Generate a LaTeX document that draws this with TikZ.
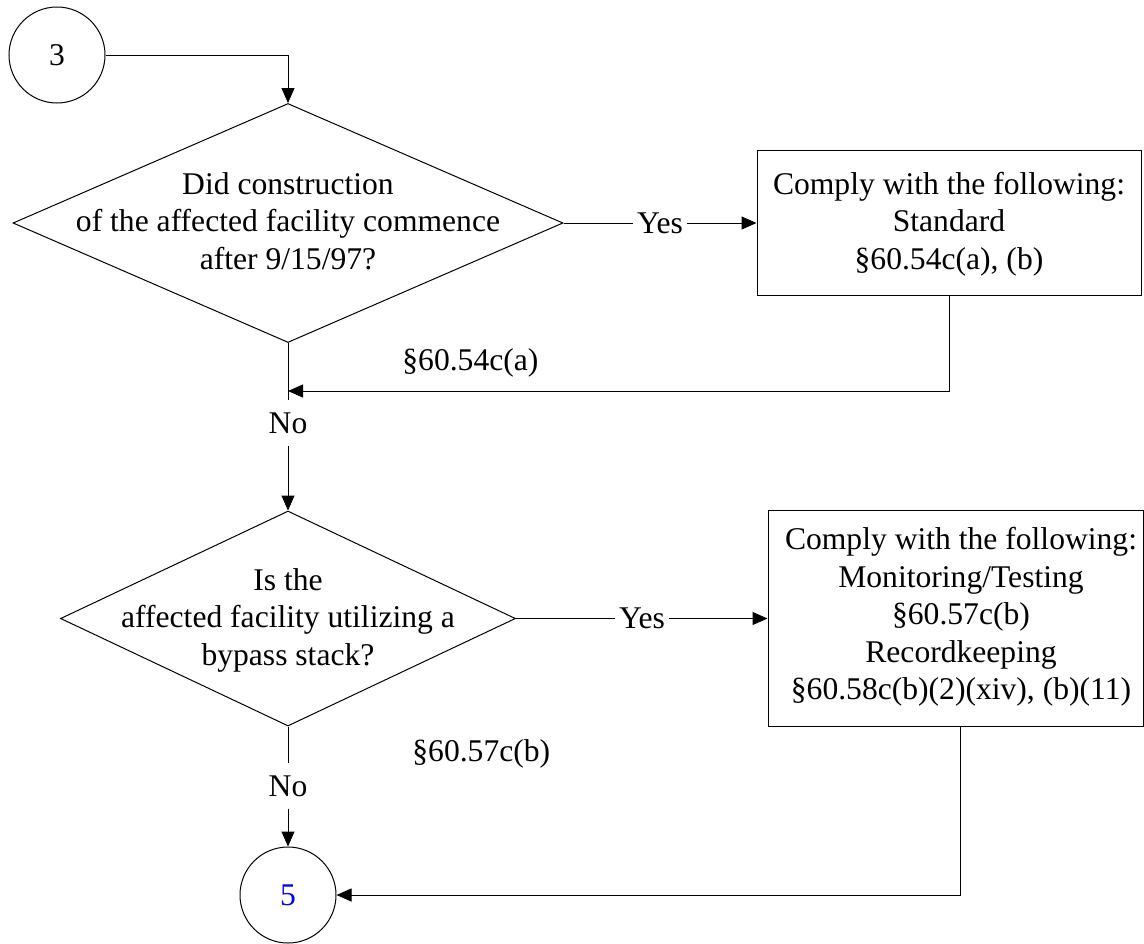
\documentclass[tikz,border=0pt]{standalone}
\usepackage{fontspec}
\setmainfont{Liberation Serif}
\usetikzlibrary{shapes.geometric,arrows.meta}
\begin{document}
\begin{tikzpicture}[x=0.5pt,y=-0.5pt,
  every node/.style={font=\fontsize{15.8}{18.75}\selectfont},
  ln/.style={line width=0.5pt, draw=black},
  arr/.style={ln, -{Triangle[length=7.5pt,width=6.5pt]}},
  conn/.style={circle, draw, line width=0.5pt, minimum size=48pt, inner sep=0pt},
  dec/.style={diamond, draw, line width=0.5pt, inner sep=0pt},
  boxx/.style={rectangle, draw, line width=0.5pt, inner sep=0pt},
  txt/.style={align=center, inner sep=0pt},
  lblh/.style={inner xsep=2pt, inner ysep=2pt},
  lblv/.style={inner xsep=2pt, inner ysep=6pt},
  sect/.style={anchor=base west, inner sep=0pt},
]
\useasboundingbox (0,0) rectangle (1144,943);

% nodes
\node[conn] (c3) at (57,55) {3};
\node[dec, minimum width=275pt, minimum height=119.5pt] (d1) at (288,223) {};
\node[txt] (d1t) at (288,221) {Did construction\\of the affected facility commence\\after 9/15/97?};
\node[boxx, minimum width=192pt, minimum height=72.5pt] (b1) at (949,223) {};
\node[txt] (b1t) at (949,224) {Comply with the following:\\Standard\\§60.54c(a), (b)};

\node[dec, minimum width=227.5pt, minimum height=107.5pt] (d2) at (288,618.5) {};
\node[txt] (d2t) at (288,620) {Is the\\affected facility utilizing a\\bypass stack?};
\node[boxx, minimum width=187.5pt, minimum height=108pt] (b2) at (955.5,618.5) {};
\node[txt] (b2t) at (961,617) {Comply with the following:\\Monitoring/Testing\\§60.57c(b)\\Recordkeeping\\§60.58c(b)(2)(xiv), (b)(11)};

\node[conn, text=blue] (c5) at (288,895) {5};

% labels
\node[lblh] (y1) at (660,223) {Yes};
\node[lblh] (y2) at (642,618.5) {Yes};
\node[lblv] (n1) at (288,423) {No};
\node[lblv] (n2) at (288,786) {No};
\node[sect] (l1) at (402,370) {§60.54c(a)};
\node[sect] (l2) at (412,761) {§60.57c(b)};

\coordinate (m1) at (288,391);
\coordinate (b2x) at ([xshift=2.25pt]b2.south);

% connectors
\draw[arr] (c3.east) -| (d1.north);
\draw[ln] (d1.east) -- (d1.east -| y1.west);
\draw[arr] (d1.east -| y1.east) -- (b1.west);
\draw[arr] (b1.south) |- (m1);
\draw[ln] (d1.south) -- (n1.north);
\draw[arr] (n1.south) -- (d2.north);
\draw[ln] (d2.east) -- (d2.east -| y2.west);
\draw[arr] (d2.east -| y2.east) -- (b2.west);
\draw[ln] (d2.south) -- (n2.north);
\draw[arr] (n2.south) -- (c5.north);
\draw[arr] (b2x) |- (c5.east);
\end{tikzpicture}
\end{document}
